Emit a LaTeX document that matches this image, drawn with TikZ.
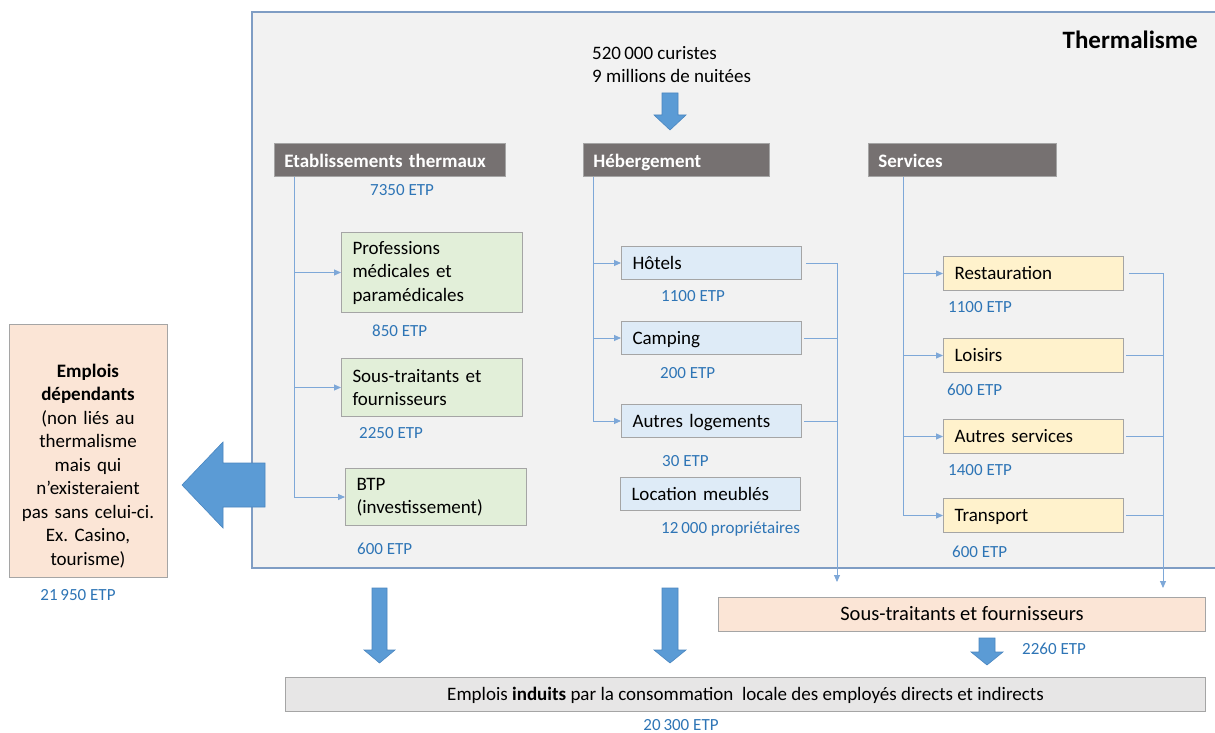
\documentclass[tikz,border=0pt]{standalone}
\usepackage{fontspec}
\setmainfont{Carlito}
\usetikzlibrary{arrows.meta}
\definecolor{hdrgrey}{HTML}{767171}
\definecolor{boxborder}{HTML}{A5A5A5}
\definecolor{greenfill}{HTML}{E2EFD9}
\definecolor{bluefill}{HTML}{DEEBF7}
\definecolor{yellowfill}{HTML}{FFF2CC}
\definecolor{peachfill}{HTML}{FBE5D6}
\definecolor{greyfill}{HTML}{E7E6E6}
\definecolor{outerfill}{HTML}{F2F2F2}
\definecolor{outerline}{HTML}{7F9DC4}
\definecolor{etpblue}{HTML}{2E75B6}
\definecolor{connblue}{HTML}{7EA8D8}
\definecolor{arrowfill}{HTML}{5B9BD5}
\definecolor{arrowline}{HTML}{4A86C0}
\frenchspacing
\tikzset{
  base/.style={font=\fontsize{19}{23.5}\selectfont, inner ysep=0pt},
  oneline/.style={text height=15pt, text depth=3pt},
  hdrline/.style={text height=16.5pt, text depth=1.5pt},
  hdr/.style={base, hdrline, fill=hdrgrey, draw=boxborder, line width=0.8pt, text=white, font=\fontsize{19}{23.5}\selectfont\bfseries, anchor=north west, inner xsep=10pt, minimum height=33},
  gbox/.style={base, fill=greenfill, draw=boxborder, line width=1pt, anchor=north west, inner xsep=11pt},
  bbox/.style={base, oneline, fill=bluefill, draw=boxborder, line width=1pt, anchor=north west, inner xsep=11pt, minimum height=33},
  ybox/.style={base, oneline, fill=yellowfill, draw=boxborder, line width=1pt, anchor=north west, inner xsep=11pt, minimum height=34},
  etp/.style={text=etpblue, font=\fontsize{17}{20}\selectfont, inner sep=0pt, anchor=west},
  plain/.style={base, inner sep=0pt},
  conn/.style={draw=connblue, line width=0.9pt},
  tip/.style={-{Triangle[length=7pt,width=6pt]}},
  blockarrow/.style={fill=arrowfill, draw=arrowline, line width=0.6pt},
}
\begin{document}
\begin{tikzpicture}[x=1pt,y=-1pt]
\useasboundingbox (0,0) rectangle (1215,733);
\fill[white] (0,0) rectangle (1215,733);
% outer box
\draw[fill=outerfill, draw=outerline, line width=1.3pt] (1225,12) -- (252,12) -- (252,568) -- (1225,568);
\node[plain, font=\fontsize{25}{28}\selectfont\bfseries, anchor=east] (title) at (1198,40) {Thermalisme};
\node[plain, anchor=west] (cur1) at (592,53) {520\,000 curistes};
\node[plain, anchor=west] (cur2) at (592,76) {9 millions de nuitées};
% top block arrow
\draw[blockarrow] (662,93) -- (678,93) -- (678,115) -- (686,115) -- (670,130) -- (654,115) -- (662,115) -- cycle;
% headers
\node[hdr, text width=211] (etab) at (274,143) {\raggedright Etablissements thermaux};
\node[hdr, text width=166] (heb) at (583,143) {\raggedright Hébergement};
\node[hdr, text width=168] (serv) at (868,143) {\raggedright Services};
\node[etp] (e7350) at (370,190) {7350 ETP};
% green boxes
\node[gbox, text width=159, minimum height=80] (prof) at (341,232) {\raggedright Professions\\médicales et\\paramédicales};
\node[gbox, text width=159, minimum height=58] (sous) at (341,358) {\raggedright Sous-traitants et\\fournisseurs};
\node[gbox, text width=159, minimum height=57] (btp) at (345,468) {\raggedright BTP\\(investissement)};
\node[etp] (e850) at (372,331) {850 ETP};
\node[etp] (e2250) at (359,433) {2250 ETP};
\node[etp] (e600a) at (357,549) {600 ETP};
\draw[conn,tip] ([xshift=20]etab.south west) |- (prof.west);
\draw[conn,tip] ([xshift=20]etab.south west) |- (sous.west);
\draw[conn,tip] ([xshift=20]etab.south west) |- (btp.west);
% blue boxes
\node[bbox, text width=158] (hot) at (621,246) {\raggedright Hôtels};
\node[bbox, text width=158] (camp) at (621,321) {\raggedright Camping};
\node[bbox, text width=158] (autl) at (621,404) {\raggedright Autres logements};
\node[bbox, text width=158] (loc) at (620,477) {\raggedright Location meublés};
\node[etp] (e1100a) at (661,296) {1100 ETP};
\node[etp] (e200) at (660,373) {200 ETP};
\node[etp] (e30) at (662,461) {30 ETP};
\node[etp] (eprop) at (661,529) {12\,000 propriétaires};
\draw[conn,tip] ([xshift=10]heb.south west) |- (hot.west);
\draw[conn,tip] ([xshift=10]heb.south west) |- (camp.west);
\draw[conn,tip] ([xshift=10]heb.south west) |- (autl.west);
\coordinate (hend) at (837,582);
\draw[conn,tip] ([xshift=4]hot.east) -| (hend);
\draw[conn] ([xshift=2]camp.east) -- (camp.east -| hend);
\draw[conn] ([xshift=2]autl.east) -- (autl.east -| hend);
% yellow boxes
\node[ybox, text width=158] (rest) at (943,256) {\raggedright Restauration};
\node[ybox, text width=158] (lois) at (943,338) {\raggedright Loisirs};
\node[ybox, text width=158] (auts) at (943,419) {\raggedright Autres services};
\node[ybox, text width=158] (trans) at (943,498) {\raggedright Transport};
\node[etp] (e1100b) at (948,307) {1100 ETP};
\node[etp] (e600b) at (947,390) {600 ETP};
\node[etp] (e1400) at (948,470) {1400 ETP};
\node[etp] (e600c) at (952,552) {600 ETP};
\draw[conn,tip] ([xshift=35]serv.south west) |- (rest.west);
\draw[conn,tip] ([xshift=35]serv.south west) |- (lois.west);
\draw[conn,tip] ([xshift=35]serv.south west) |- (auts.west);
\draw[conn,tip] ([xshift=35]serv.south west) |- (trans.west);
\coordinate (send) at (1163,588);
\draw[conn,tip] ([xshift=5]rest.east) -| (send);
\draw[conn] ([xshift=2]lois.east) -- (lois.east -| send);
\draw[conn] ([xshift=2]auts.east) -- (auts.east -| send);
\draw[conn] ([xshift=2]trans.east) -- (trans.east -| send);
% sous-traitants bottom
\node[base, oneline, font=\fontsize{20.5}{24}\selectfont, fill=peachfill, draw=boxborder, line width=1pt, anchor=north west, minimum width=487, minimum height=34] (stf) at (718,597) {Sous-traitants et fournisseurs};
\draw[blockarrow] (979,638) -- (995,638) -- (995,652) -- (1003,652) -- (987,665) -- (971,652) -- (979,652) -- cycle;
\node[etp] (e2260) at (1022,649) {2260 ETP};
% big down arrows
\draw[blockarrow] (372,588) -- (387,588) -- (387,650) -- (395,650) -- (379.5,663) -- (364,650) -- (372,650) -- cycle;
\draw[blockarrow] (662,588) -- (678,588) -- (678,650) -- (686,650) -- (670,663) -- (654,650) -- (662,650) -- cycle;
% induits
\node[base, oneline, fill=greyfill, draw=boxborder, line width=1pt, anchor=north west, minimum width=920, minimum height=34] (ind) at (285,677) {Emplois \textbf{induits} par la consommation\ \ locale des employés directs et indirects};
\node[etp, anchor=center] (e20300) at (681,725) {20\,300 ETP};
% left box
\node[fill=peachfill, draw=boxborder, line width=1pt, anchor=north west, minimum width=158, minimum height=253, inner sep=0pt] (dep) at (9,324) {};
\node[base, inner sep=0pt, text width=156] (deptext) at (88,466) {\centering\textbf{Emplois}\\\textbf{dépendants}\\(non liés au\\thermalisme\\mais qui\\n’existeraient\\pas sans celui-ci.\\Ex. Casino,\\tourisme)\par};
\node[etp, anchor=center] (e21950) at (78,595) {21\,950 ETP};
\draw[blockarrow] (265,463) -- (223,463) -- (223,442) -- (182,485) -- (223,528) -- (223,507) -- (265,507) -- cycle;
\end{tikzpicture}
\end{document}
